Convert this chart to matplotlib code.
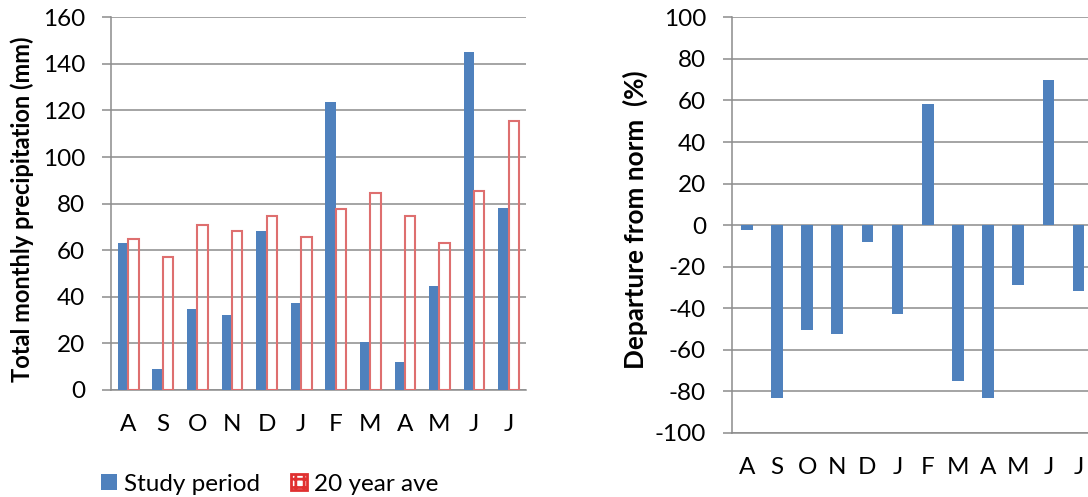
import numpy as np
from matplotlib import pyplot as plt
from matplotlib.patches import Patch

# Meses (agosto a julio)
months = ['A', 'S', 'O', 'N', 'D', 'J', 'F', 'M', 'A', 'M', 'J', 'J']

# Precipitacion mensual total (mm)
study_period = [63.2, 9.1, 34.6, 32.2, 68.2, 37.2, 123.7, 20.6, 12.1, 44.6, 145.3, 78.1]
year20_ave = [64.9, 57.1, 70.7, 68.3, 74.6, 65.5, 77.9, 84.6, 74.5, 63.1, 85.5, 115.4]

# Desviacion respecto a la norma (%)
departure = [-2.3, -83.0, -50.3, -52.4, -8.3, -42.6, 58.5, -75.0, -83.0, -28.7, 69.9, -31.9]

blue = '#4F81BD'
red = '#DE6F6F'
grey = '#8C8C8C'

plt.rcParams['font.family'] = ['Lato', 'DejaVu Sans']
plt.rcParams['axes.unicode_minus'] = False
plt.rcParams['hatch.linewidth'] = 2.0
fs = 17.5


def style_axis(ax):
    ax.yaxis.grid(True, color=grey, lw=1.1)
    ax.set_axisbelow(True)
    for side in ['top', 'right']:
        ax.spines[side].set_visible(False)
    for side in ['left', 'bottom']:
        ax.spines[side].set_color(grey)
        ax.spines[side].set_linewidth(1.1)
    ax.tick_params(axis='y', length=6.5, width=1.1, color=grey, pad=12, labelsize=fs)
    ax.tick_params(axis='x', length=0, pad=17, labelsize=fs)


fig = plt.figure(figsize=(10.88, 4.97), dpi=100)

# --- Grafico izquierdo: precipitacion ---
ax1 = fig.add_axes([0.102, 0.2153, 0.3814, 0.7499])
x = np.arange(len(months))
w = 0.3
ax1.bar(x - w / 2, study_period, w, color=blue, zorder=3)
ax1.bar(x + w / 2, year20_ave, w, facecolor='none', edgecolor=red, lw=1.5, zorder=3)
ax1.set_xlim(-0.5, len(months) - 0.5)
ax1.set_ylim(0, 160)
ax1.set_yticks(range(0, 161, 20))
ax1.set_xticks(x)
ax1.set_xticklabels(months)
style_axis(ax1)
ax1.set_ylabel('Total monthly precipitation (mm)', fontsize=17.0, fontweight='bold')
ax1.yaxis.set_label_coords(-0.186, 0.485)

# --- Grafico derecho: desviacion de la norma ---
ax2 = fig.add_axes([0.6725, 0.1288, 0.3327, 0.8364])
ax2.bar(x, departure, 0.39, color=blue, zorder=3)
ax2.set_xlim(-0.5, len(months) - 0.5)
ax2.set_ylim(-100, 100)
ax2.set_yticks(range(-100, 101, 20))
ax2.set_xticks(x)
ax2.set_xticklabels(months)
style_axis(ax2)
ax2.set_ylabel('Departure from norm  (%)', fontsize=18.8, fontweight='bold')
ax2.yaxis.set_label_coords(-0.231, 0.512)

# Leyenda debajo del grafico izquierdo
handles = [Patch(facecolor=blue, edgecolor='none', label='Study period'),
           Patch(facecolor='white', edgecolor='#E03030', lw=2, hatch='++', label='20 year ave')]
fig.legend(handles=handles, loc='center left', bbox_to_anchor=(0.0928, 0.026), ncol=2,
           frameon=False, fontsize=fs, handlelength=0.66, handleheight=0.66,
           handletextpad=0.27, columnspacing=1.3, borderpad=0, borderaxespad=0)

fig.savefig('out.png', dpi=100)
